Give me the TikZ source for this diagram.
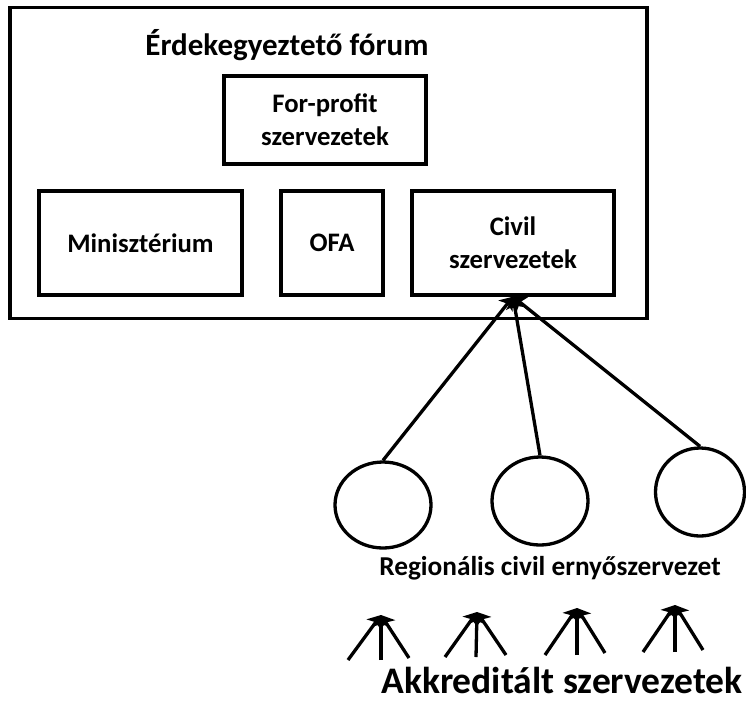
\documentclass[tikz,border=0pt]{standalone}
\usepackage{fontspec}
\setmainfont{Carlito}
\usetikzlibrary{shapes.geometric,arrows.meta}
\tikzset{
  box/.style={draw, line width=3.3pt, rectangle, inner sep=0pt},
  lbl/.style={font=\fontsize{26.7}{33}\selectfont\bfseries, align=center, inner sep=0pt},
  circ/.style={draw, line width=3.3pt, ellipse, inner sep=0pt},
  con/.style={line width=3.3pt, -{Stealth[length=12pt,width=18pt,inset=3pt]}},
}
\begin{document}
\begin{tikzpicture}[x=1pt,y=-1pt]
\useasboundingbox (0,0) rectangle (746,710);
\node[box, minimum width=637pt, minimum height=311pt] (outer) at (328.5,163) {};
\node[lbl, font=\fontsize{31}{33}\selectfont\bfseries] (title) at (287,45) {Érdekegyeztető fórum};
\node[box, minimum width=202pt, minimum height=88pt] (fp) at (325,120) {};
\node[lbl] (fpt) at (fp.center) {For-profit\\szervezetek};
\node[box, minimum width=203pt, minimum height=104pt] (min) at (140.5,243) {};
\node[lbl] (mint) at (min.center) {Minisztérium};
\node[box, minimum width=102pt, minimum height=104pt] (ofa) at (332,243) {};
\node[lbl] (ofat) at (ofa.center) {OFA};
\node[box, minimum width=202pt, minimum height=104pt] (civ) at (513,243) {};
\node[lbl] (civt) at (civ.center) {Civil\\szervezetek};

\node[circ, minimum width=96pt, minimum height=86pt] (c1) at (383,505) {};
\node[circ, minimum width=96pt, minimum height=88pt] (c2) at (540,501) {};
\node[circ, minimum width=89pt, minimum height=88pt] (c3) at (700,492) {};
\draw[con] (c1.north) -- (civ.south);
\draw[con] (c2.north) -- (civ.south);
\draw[con] (c3.north) -- (civ.south);

\node[lbl, font=\fontsize{27.3}{30}\selectfont\bfseries] (reg) at (550,568) {Regionális civil ernyőszervezet};

\foreach \i/\tx/\ty/\lx/\mx/\rx/\by in {1/381/615/348/381/409/660, 2/477/612/445/476/506/657, 3/577/608/545/577/605/655, 4/675/605/643/675/703/652}{
  \coordinate (t\i) at (\tx,\ty);
  \coordinate (l\i) at (\lx,\by);
  \coordinate (m\i) at (\mx,\by);
  \coordinate (r\i) at (\rx,\by-2);
  \draw[con] (l\i) -- (t\i);
  \draw[con] (m\i) -- (t\i);
  \draw[con] (r\i) -- (t\i);
}
\node[lbl, font=\fontsize{37.5}{40}\selectfont\bfseries] (akk) at (562,680) {Akkreditált szervezetek};
\end{tikzpicture}
\end{document}
